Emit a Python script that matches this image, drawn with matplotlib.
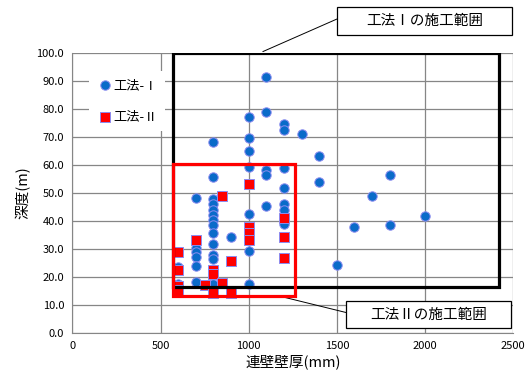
import matplotlib
matplotlib.use('Agg')
import matplotlib.pyplot as plt
from matplotlib.patches import Rectangle

plt.rcParams['font.family'] = ['Noto Sans CJK JP', 'DejaVu Sans']

# 工法-Ⅰ (blue circles)
thick_1 = [1100, 1100, 1100, 1100, 1100,
           1000, 1000, 1000, 1000, 1000, 1000, 1000,
           1200, 1200, 1200, 1200, 1200, 1200, 1200,
           1300, 1400, 1400, 1500, 1600, 1700, 1800, 1800, 2000,
           900,
           800, 800, 800, 800, 800, 800, 800, 800, 800, 800, 800, 800, 800,
           700, 700, 700, 700, 700, 700,
           600, 600]
depth_1 = [91.3, 78.8, 58.2, 56.5, 45.5,
           77.3, 69.5, 64.9, 59.4, 42.5, 29.3, 17.4,
           74.5, 72.6, 59.1, 51.7, 46.0, 43.9, 39.0,
           71.1, 63.3, 54.0, 24.2, 37.7, 48.8, 56.3, 38.5, 41.7,
           34.4,
           68.1, 55.8, 47.7, 46.0, 44.0, 42.2, 40.5, 38.4, 35.8, 31.7, 27.7, 26.6, 17.6,
           48.1, 30.5, 28.8, 27.3, 24.1, 18.2,
           23.5, 17.5]

# 工法-Ⅱ (red squares)
thick_2 = [600, 600, 600, 600, 700, 750, 800, 800, 800, 850, 850, 900, 900,
           1000, 1000, 1000, 1000, 1200, 1200, 1200]
depth_2 = [29.1, 22.6, 16.8, 15.2, 33.2, 17.1, 22.5, 21.0, 14.2, 48.9, 18.0, 25.7, 14.3,
           53.2, 38.0, 35.6, 33.3, 41.1, 34.3, 26.7]

# construction ranges (x0, x1, y0, y1)
range_1 = (570, 2420, 16.5, 100)
range_2 = (570, 1265, 13.2, 60.3)

W, H = 529, 380
fig = plt.figure(figsize=(W / 100, H / 100), dpi=100)
ax = fig.add_axes([0.137, 0.1237, 0.833, 0.7368])

ax.scatter(thick_1, depth_1, s=46, marker='o', color='#0A6BC9',
           edgecolors='#8C8CF0', linewidths=0.7, label='工法-Ⅰ', zorder=3)
ax.scatter(thick_2, depth_2, s=44, marker='s', color='#FF0000',
           edgecolors='#8C8CF0', linewidths=0.7, label='工法-Ⅱ', zorder=4)

ax.add_patch(Rectangle((range_1[0], range_1[2]), range_1[1] - range_1[0],
                       range_1[3] - range_1[2], fill=False, ec='black', lw=2.3, zorder=5))
ax.add_patch(Rectangle((range_2[0], range_2[2]), range_2[1] - range_2[0],
                       range_2[3] - range_2[2], fill=False, ec='#FF0000', lw=2.3, zorder=5))

ax.set_xlim(0, 2500)
ax.set_ylim(0, 100)
ax.set_xticks(range(0, 2501, 500))
ax.set_yticks(range(0, 101, 10))
ax.set_yticklabels([f'{v:.1f}' for v in range(0, 101, 10)])
ax.tick_params(length=0, labelsize=8, pad=6)
ax.grid(True, color='#868686', lw=0.9)
ax.set_axisbelow(True)
for side in ['top', 'right']:
    ax.spines[side].set_visible(False)
for side in ['left', 'bottom']:
    ax.spines[side].set_color('#868686')

ax.set_xlabel('連壁壁厚(mm)', fontsize=10.5, labelpad=2)
ax.set_ylabel('深度(m)', fontsize=10.5, labelpad=4)

leg = ax.legend(loc='upper left', bbox_to_anchor=(0.022, 0.96), fontsize=9.5,
                frameon=True, fancybox=False, edgecolor='none', framealpha=1,
                labelspacing=1.4, handletextpad=0.05, borderpad=0.6, handlelength=1.2)
leg.set_zorder(6)

# callout boxes, in figure pixels (x0, y0 from top, x1, y1 from top)
callouts = [('工法Ⅰの施工範囲', (337, 7, 512, 35), (1080, 100.5)),
            ('工法Ⅱの施工範囲', (346, 301, 511, 328), (1160, 13.4))]
for text, (x0, y0, x1, y1), target in callouts:
    fig.add_artist(Rectangle((x0 / W, 1 - y1 / H), (x1 - x0) / W, (y1 - y0) / H,
                             transform=fig.transFigure, fc='white', ec='black', lw=0.9))
    fig.text((x0 + x1) / 2 / W, 1 - (y0 + y1) / 2 / H, text, fontsize=10.5,
             ha='center', va='center')
    ax.annotate('', xy=target, xycoords='data',
                xytext=(x0, H - (y0 + y1) / 2 + 2), textcoords='figure pixels',
                arrowprops=dict(arrowstyle='-', color='black', lw=0.7, shrinkA=0, shrinkB=0),
                annotation_clip=False)

fig.savefig('out.png', dpi=100)
